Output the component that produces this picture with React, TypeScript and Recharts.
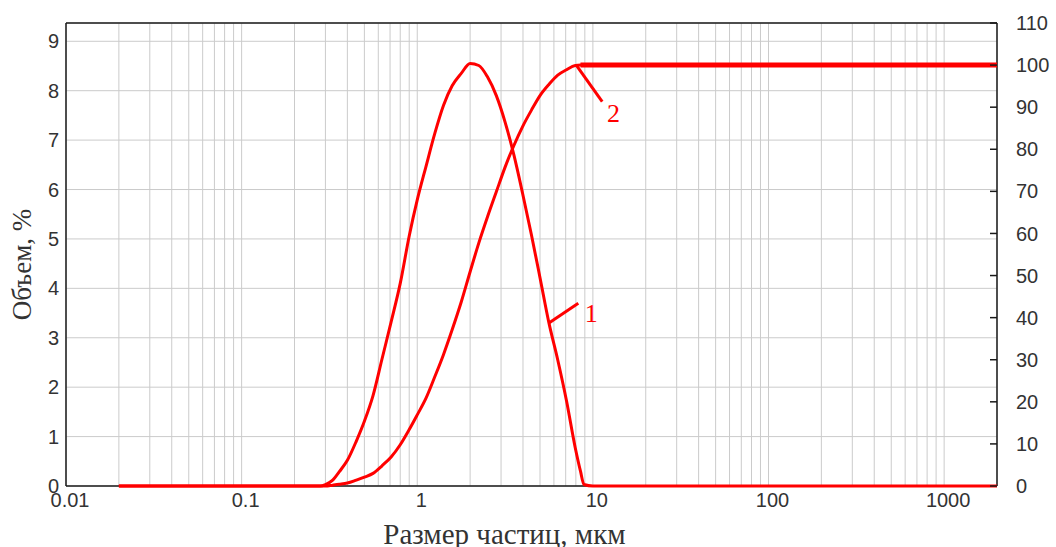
import {
  LineChart,
  Line,
  XAxis,
  YAxis,
  CartesianGrid,
  ReferenceLine,
  ReferenceDot,
  Label,
} from "recharts";

// Particle size, µm (log axis)
const sizes = [
  0.02, 0.28, 0.3, 0.33, 0.36, 0.4, 0.45, 0.5, 0.56, 0.63, 0.71, 0.8, 0.9, 1.0, 1.12, 1.26, 1.41, 1.58,
  1.78, 2.0, 2.24, 2.51, 2.82, 3.16, 3.55, 3.98, 4.47, 5.01, 5.62, 6.31, 7.08, 7.94, 8.5, 8.9, 10, 100,
  1000, 2000,
];
// Curve 1: differential volume, %
const volume = [
  0, 0, 0.03, 0.12, 0.29, 0.52, 0.91, 1.31, 1.83, 2.57, 3.32, 4.1, 5.06, 5.79, 6.46, 7.14, 7.7, 8.1, 8.35,
  8.55, 8.51, 8.28, 7.9, 7.37, 6.7, 5.92, 5.08, 4.2, 3.3, 2.55, 1.72, 0.77, 0.3, 0.03, 0, 0, 0, 0,
];
// Curve 2: cumulative volume, %
const cumulative = [
  0, 0, 0, 0.2, 0.4, 0.7, 1.4, 2.1, 3.0, 4.8, 6.9, 9.8, 13.4, 16.9, 20.8, 26.0, 31.2, 37.1, 43.7, 50.9,
  57.7, 63.9, 69.9, 75.7, 80.9, 85.4, 89.3, 92.8, 95.4, 97.6, 98.9, 99.9, 100, 100, 100, 100, 100, 100,
];

const decades = [0.01, 0.1, 1, 10, 100, 1000];
const xTicks = decades.flatMap((d) => (d === 1000 ? [1000] : [1, 2, 3, 4, 5, 6, 7, 8, 9].map((m) => +(m * d).toPrecision(2))));
const leftTicks = [0, 1, 2, 3, 4, 5, 6, 7, 8, 9];
const rightTicks = [0, 10, 20, 30, 40, 50, 60, 70, 80, 90, 100, 110];
const LEFT_MAX = 9.37;
const RIGHT_MAX = 110;

// curve labels: leader start on curve, leader end, text position
const leader1 = [{ x: sizes[28], y: volume[28] }, { x: 8.26, y: 3.7 }];
const label1 = { x: 9.8, y: 3.5, text: "1" };
const leader2 = [{ x: 8.04, y: 100 }, { x: 11.3, y: 91.3 }];
const label2 = { x: 13.1, y: 88.7, text: "2" };

const data = sizes.map((size, i) => ({
  size,
  volume: volume[i],
  cumulative: cumulative[i],
  plateau: size >= 8.5 ? cumulative[i] : undefined,
}));

const RED = "#ff0000";
const AXIS = "#1a1a1a";
const TEXT = "#333333";
const SANS = "'Liberation Sans', Arial, sans-serif";
const SERIF = "'Liberation Serif', 'Times New Roman', serif";

function XTick({ x, y, payload }: any) {
  if (!decades.includes(payload.value)) return <g />;
  return (
    <text x={x + 4} y={y} dy="0.71em" textAnchor="middle" fontFamily={SANS} fontSize={20} fill={TEXT}>
      {String(payload.value)}
    </text>
  );
}

function RightTick({ x, y, payload }: any) {
  return (
    <g>
      <line x1={x - 26} x2={x - 19} y1={y} y2={y} stroke={AXIS} strokeWidth={1.5} />
      <text x={x} y={y} dy="0.355em" textAnchor="start" fontFamily={SANS} fontSize={20} fill={TEXT}>
        {payload.value}
      </text>
    </g>
  );
}

const curveLabel = (text: string) => (p: any) => (
  <text x={p.cx} y={p.cy} dy="0.35em" textAnchor="middle" fontFamily={SERIF} fontSize={26} fill={RED}>
    {text}
  </text>
);

export default function App() {
  return (
    <div style={{ position: "absolute", left: 0, top: 0 }}>
      <LineChart width={1056} height={547} data={data} margin={{ top: 23, right: 0, bottom: 0, left: 0 }}>
        <CartesianGrid stroke="#cbcbcb" strokeWidth={1} />
        <XAxis
          dataKey="size"
          type="number"
          scale="log"
          domain={[0.01, 2000]}
          ticks={xTicks}
          interval={0}
          height={61}
          tickLine={false}
          tickSize={0}
          tickMargin={7}
          tick={XTick}
          axisLine={false}
        >
          <Label
            content={({ viewBox }: any) => (
              <text
                x={viewBox.x + viewBox.width / 2 - 27}
                y={viewBox.y + viewBox.height - 3}
                textAnchor="middle"
                fontFamily={SERIF}
                fontSize={29}
                fill={TEXT}
              >
                Размер частиц, мкм
              </text>
            )}
          />
        </XAxis>
        <YAxis
          type="number"
          domain={[0, LEFT_MAX]}
          ticks={leftTicks}
          interval={0}
          width={66}
          tickLine={false}
          tickSize={0}
          tickMargin={7}
          tick={{ fontFamily: SANS, fontSize: 20, fill: TEXT }}
          axisLine={{ stroke: AXIS, strokeWidth: 1.5 }}
        >
          <Label
            content={({ viewBox }: any) => {
              const cx = viewBox.x + 31;
              const cy = viewBox.y + viewBox.height / 2 + 10;
              return (
                <text
                  x={cx}
                  y={cy}
                  transform={`rotate(-90, ${cx}, ${cy})`}
                  textAnchor="middle"
                  fontFamily={SERIF}
                  fontSize={27}
                  fill={TEXT}
                >
                  Объем, %
                </text>
              );
            }}
          />
        </YAxis>
        <YAxis
          yAxisId="right"
          orientation="right"
          type="number"
          domain={[0, RIGHT_MAX]}
          ticks={rightTicks}
          interval={0}
          width={59}
          tickLine={false}
          tickSize={0}
          tickMargin={19}
          tick={RightTick}
          axisLine={{ stroke: AXIS, strokeWidth: 1.5 }}
        />
        {/* plot frame: top and bottom edges */}
        <ReferenceLine y={LEFT_MAX} stroke={AXIS} strokeWidth={1.5} ifOverflow="extendDomain" />
        <ReferenceLine y={0} stroke={AXIS} strokeWidth={1.5} />

        <Line
          type="monotone"
          dataKey="volume"
          stroke={RED}
          strokeWidth={3}
          dot={false}
          isAnimationActive={false}
          zIndex={700}
        />
        <Line
          type="monotone"
          dataKey="cumulative"
          yAxisId="right"
          stroke={RED}
          strokeWidth={3}
          dot={false}
          isAnimationActive={false}
          zIndex={700}
        />
        <Line
          type="linear"
          dataKey="plateau"
          yAxisId="right"
          stroke={RED}
          strokeWidth={5}
          dot={false}
          isAnimationActive={false}
          zIndex={700}
        />

        <ReferenceLine segment={leader1} stroke={RED} strokeWidth={3} />
        <ReferenceDot x={label1.x} y={label1.y} r={1} shape={curveLabel(label1.text)} />
        <ReferenceLine segment={leader2} yAxisId="right" stroke={RED} strokeWidth={3} />
        <ReferenceDot x={label2.x} y={label2.y} yAxisId="right" r={1} shape={curveLabel(label2.text)} />
      </LineChart>
    </div>
  );
}
